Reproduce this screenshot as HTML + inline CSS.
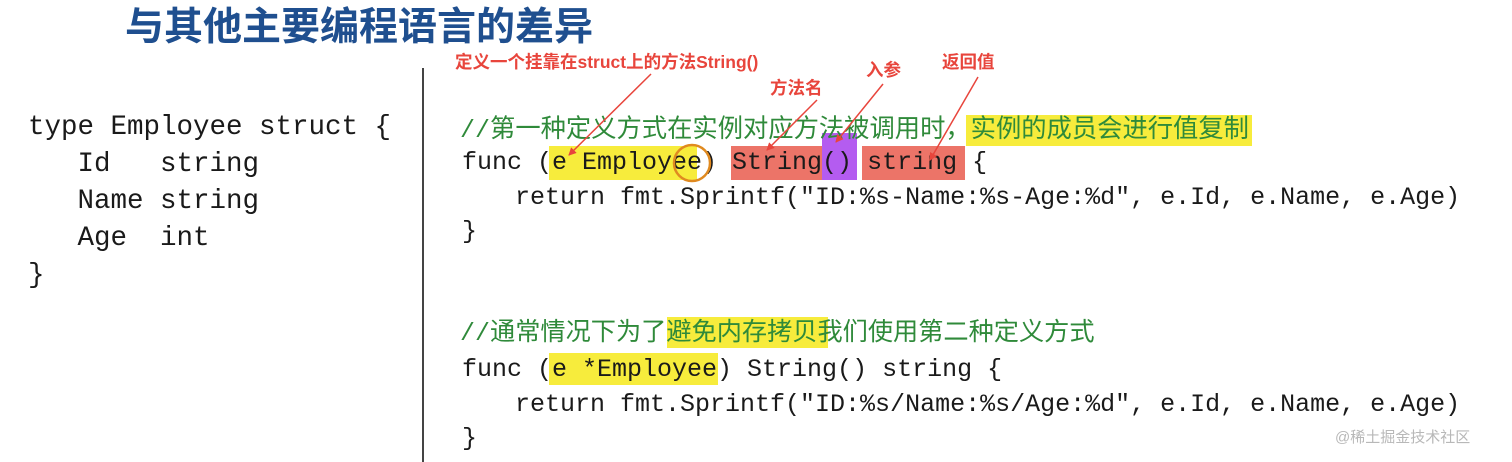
<!DOCTYPE html>
<html><head><meta charset="utf-8"><style>
body{margin:0;width:1512px;height:462px;background:#fff;position:relative;overflow:hidden}
.a{position:absolute;white-space:pre}
.m{font-family:"Liberation Mono","Noto Sans CJK SC",monospace;color:#1a1a1a}
.r{font-size:25px;line-height:35px}
.l{font-size:27.5px;line-height:37px}
.c{font-family:"Liberation Sans","Noto Sans CJK SC",sans-serif;color:#2f8a3a;line-height:35px}
.c span{font-family:"Liberation Mono",monospace;font-size:25px}
.n{font-family:"Liberation Sans","Noto Sans CJK SC",sans-serif;color:#e8453c;font-weight:bold;font-size:17.5px;line-height:20px}
.h{position:absolute}
</style></head><body>
<div class="a" style="left:125px;top:4px;font-family:'Liberation Sans','Noto Sans CJK SC',sans-serif;font-weight:bold;font-size:39px;line-height:48px;color:#1f4f8f">与其他主要编程语言的差异</div>
<div style="position:absolute;left:422px;top:68px;width:2px;height:394px;background:#444"></div>

<div class="a m l" style="left:28px;top:109px">type Employee struct {
   Id   string
   Name string
   Age  int
}</div>

<!-- highlights -->
<div class="h" style="left:966px;top:115px;width:286px;height:31px;background:#f7ec3c"></div>
<div class="h" style="left:549px;top:146px;width:148px;height:34px;background:#f7ec3c"></div>
<div class="h" style="left:731px;top:146px;width:91px;height:34px;background:#ec7468"></div>
<div class="h" style="left:822px;top:133px;width:35px;height:47px;background:#b45cf0"></div>
<div class="h" style="left:862px;top:146px;width:103px;height:34px;background:#ec7468"></div>
<div class="h" style="left:667px;top:317px;width:161px;height:31px;background:#f7ec3c"></div>
<div class="h" style="left:549px;top:353px;width:169px;height:32px;background:#f7ec3c"></div>

<div class="a c" style="left:460px;top:112px;font-size:25.3px"><span>//</span>第一种定义方式在实例对应方法被调用时，实例的成员会进行值复制</div>
<div class="a m r" style="left:462px;top:145px">func (e Employee) String() string {</div>
<div class="a m r" style="left:515px;top:180px">return fmt.Sprintf("ID:%s-Name:%s-Age:%d", e.Id, e.Name, e.Age)</div>
<div class="a m r" style="left:462px;top:214px">}</div>

<div class="a c" style="left:460px;top:315px;font-size:25.2px"><span>//</span>通常情况下为了避免内存拷贝我们使用第二种定义方式</div>
<div class="a m r" style="left:462px;top:352px">func (e *Employee) String() string {</div>
<div class="a m r" style="left:515px;top:387px">return fmt.Sprintf("ID:%s/Name:%s/Age:%d", e.Id, e.Name, e.Age)</div>
<div class="a m r" style="left:462px;top:421px">}</div>

<div class="a n" style="left:455px;top:52px">定义一个挂靠在struct上的方法String()</div>
<div class="a n" style="left:770px;top:78px">方法名</div>
<div class="a n" style="left:866px;top:60px">入参</div>
<div class="a n" style="left:942px;top:52px">返回值</div>

<svg width="1512" height="462" style="position:absolute;left:0;top:0">
<defs><marker id="ar" markerWidth="8" markerHeight="8" refX="7" refY="4" orient="auto" markerUnits="userSpaceOnUse"><path d="M0,0 L8,4 L0,8 z" fill="#e8453c"/></marker></defs>
<g stroke="#e8453c" stroke-width="1.5" fill="none">
<line x1="651" y1="74" x2="569" y2="155" marker-end="url(#ar)"/>
<line x1="817" y1="100" x2="767" y2="150" marker-end="url(#ar)"/>
<line x1="883" y1="84" x2="836" y2="142" marker-end="url(#ar)"/>
<line x1="978" y1="77" x2="930" y2="160" marker-end="url(#ar)"/>
</g>
<circle cx="692" cy="163" r="18" stroke="#e08a20" stroke-width="2.5" fill="none"/>
</svg>
<div class="a" style="left:1335px;top:426px;font-family:'Liberation Sans','Noto Sans CJK SC',sans-serif;font-size:15px;color:#b8b8b8">@稀土掘金技术社区</div>
</body></html>
